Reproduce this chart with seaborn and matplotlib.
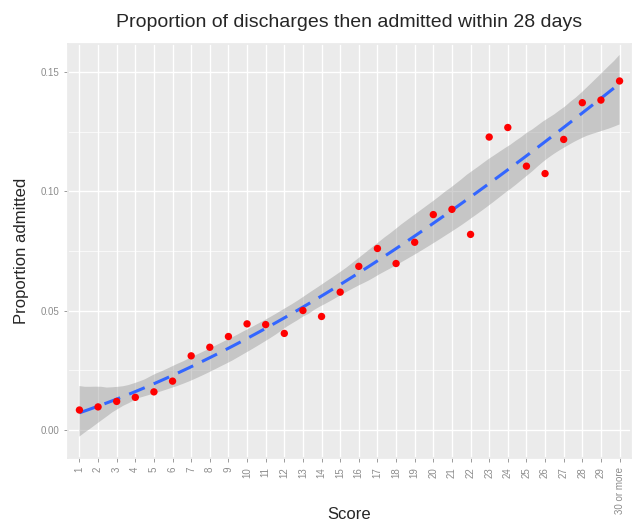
import numpy as np
import pandas as pd
import matplotlib
matplotlib.use("Agg")
import matplotlib.pyplot as plt
import matplotlib.ticker as mtick
import seaborn as sns

# values
score_labels = [str(i) for i in range(1, 30)] + ["30 or more"]
score_pos = list(range(1, 31))
proportion = [0.0084, 0.0097, 0.0120, 0.0137, 0.0160, 0.0205, 0.0311, 0.0347,
              0.0392, 0.0445, 0.0442, 0.0405, 0.0501, 0.0476, 0.0578, 0.0686,
              0.0761, 0.0698, 0.0787, 0.0903, 0.0925, 0.0820, 0.1228, 0.1268,
              0.1106, 0.1075, 0.1218, 0.1372, 0.1383, 0.1463]

df = pd.DataFrame({"pos": score_pos, "score": score_labels, "prop": proportion})

sns.set_theme(style="darkgrid", rc={
    "axes.facecolor": "#EBEBEB",
    "grid.color": "white",
    "axes.edgecolor": "#EBEBEB",
    "xtick.bottom": True,
    "ytick.left": True,
    "xtick.color": "#8C8C8C",
    "ytick.color": "#8C8C8C",
    "xtick.major.size": 3,
    "ytick.major.size": 3,
    "xtick.major.width": 0.6,
    "ytick.major.width": 0.6,
})
plt.rcParams["font.family"] = ["Liberation Sans", "DejaVu Sans"]

fig, ax = plt.subplots(figsize=(6.32, 5.21), dpi=100)
fig.subplots_adjust(left=0.108, right=0.998, top=0.916, bottom=0.121)

# smooth fit with confidence band
sns.regplot(x="pos", y="prop", data=df, order=3, scatter=False, ci=99, seed=0,
            n_boot=2000, truncate=True, color="#3366FF", ax=ax,
            line_kws={"linewidth": 2.2, "dashes": (5.5, 3.2)})
band = ax.collections[-1]
band.set_facecolor("#999999")
band.set_edgecolor("none")
band.set_alpha(0.45)
ax.lines[-1].set_zorder(4)

sns.scatterplot(x="pos", y="prop", data=df, color="#FF0000", s=28,
                edgecolor="none", ax=ax, zorder=5)

ax.set_xlim(0.4, 30.6)
ax.set_ylim(-0.0117, 0.1619)
ax.set_xticks(score_pos)
ax.set_xticklabels(score_labels, rotation=90, fontsize=7, color="#8C8C8C")
ax.yaxis.set_major_locator(mtick.MultipleLocator(0.05))
ax.yaxis.set_minor_locator(mtick.MultipleLocator(0.025))
ax.yaxis.set_major_formatter(mtick.FormatStrFormatter("%.2f"))
ax.tick_params(axis="y", labelsize=7, labelcolor="#8C8C8C")
ax.grid(which="major", color="white", linewidth=1.0)
ax.grid(which="minor", axis="y", color="white", linewidth=0.5)
ax.tick_params(which="minor", left=False)

ax.set_title("Proportion of discharges then admitted within 28 days",
             fontsize=14, pad=12)
ax.set_xlabel("Score", fontsize=12)
ax.xaxis.set_label_coords(0.5, -0.118)
ax.set_ylabel("Proportion admitted", fontsize=12, labelpad=8)

fig.savefig("out.png", dpi=100)
